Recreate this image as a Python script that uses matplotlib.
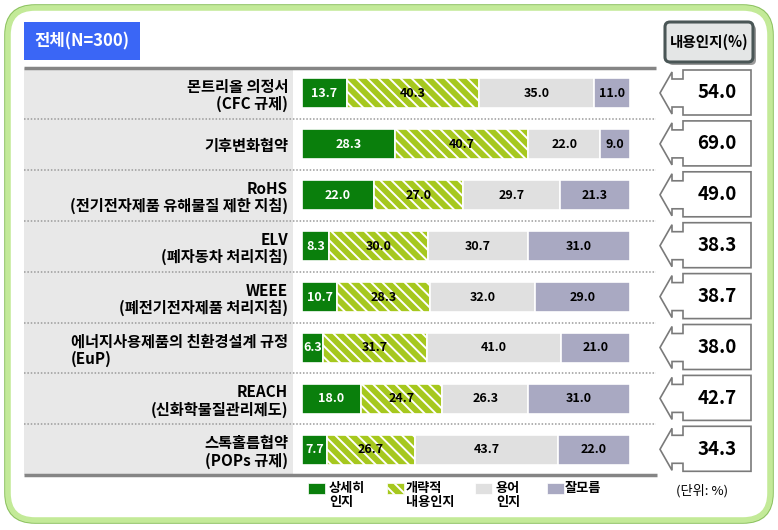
import matplotlib
matplotlib.use("Agg")
import matplotlib.pyplot as plt
import numpy as np
from matplotlib.patches import Rectangle, FancyBboxPatch, Polygon

plt.rcParams['font.family'] = ['Noto Sans CJK KR', 'DejaVu Sans']
plt.rcParams['hatch.linewidth'] = 1.4

# data
categories = [
    "몬트리올 의정서\n(CFC 규제)",
    "기후변화협약",
    "RoHS\n(전기전자제품 유해물질 제한 지침)",
    "ELV\n(폐자동차 처리지침)",
    "WEEE\n(폐전기전자제품 처리지침)",
    "에너지사용제품의 친환경설계 규정\n(EuP)",
    "REACH\n(신화학물질관리제도)",
    "스톡홀름협약\n(POPs 규제)",
]
detailed = [13.7, 28.3, 22.0, 8.3, 10.7, 6.3, 18.0, 7.7]
rough = [40.3, 40.7, 27.0, 30.0, 28.3, 31.7, 24.7, 26.7]
term_only = [35.0, 22.0, 29.7, 30.7, 32.0, 41.0, 26.3, 43.7]
unknown = [11.0, 9.0, 21.3, 31.0, 29.0, 21.0, 31.0, 22.0]
aware_pct = [54.0, 69.0, 49.0, 38.3, 38.7, 38.0, 42.7, 34.3]
series_names = ["상세히\n인지", "개략적\n내용인지", "용어\n인지", "잘모름"]

W, H = 778, 530
fig = plt.figure(figsize=(W / 100, H / 100), dpi=100)

# background layer in pixel coordinates
bg = fig.add_axes([0, 0, 1, 1], zorder=0)
bg.set_xlim(0, W)
bg.set_ylim(H, 0)
bg.axis('off')

bg.add_patch(FancyBboxPatch((5, 5), 768, 518, boxstyle="round,pad=0,rounding_size=30",
                            fc='white', ec='#8fc463', lw=1.2))
bg.add_patch(FancyBboxPatch((8, 8), 762, 512, boxstyle="round,pad=0,rounding_size=27",
                            fc='none', ec='#c3ea98', lw=4))

top, row_h = 68, 50.9
n = len(categories)
bottom = top + row_h * n

# title box
bg.add_patch(Rectangle((24, 22), 116, 38, fc='#3a66f6', ec='none'))
bg.text(82, 41, "전체(N=300)", color='white', fontsize=12, fontweight='bold',
        ha='center', va='center')

# label column
bg.add_patch(Rectangle((24, top), 269, bottom - top, fc='#e8e8e8', ec='none'))
for k in range(1, n):
    yy = top + row_h * k
    bg.plot([24, 656], [yy, yy], color='#9a9a9a', lw=1.1, ls=(0, (1, 1.2)))
bg.plot([24, 656], [top, top], color='#858585', lw=2.5, solid_capstyle='butt')
bg.plot([24, 657], [bottom, bottom], color='#858585', lw=2.5, solid_capstyle='butt')

# header button
bg.add_patch(FancyBboxPatch((668, 25), 88, 40, boxstyle="round,pad=0,rounding_size=5",
                            fc='#9a9a9a', ec='none'))
bg.add_patch(FancyBboxPatch((665, 22), 88, 40, boxstyle="round,pad=0,rounding_size=5",
                            fc='#e4e6e6', ec='#4a5656', lw=2.2))
bg.text(709, 42, "내용인지(%)", fontsize=10.5, fontweight='bold', ha='center', va='center')

# callouts
for i, v in enumerate(aware_pct):
    r0 = top + row_h * i
    pts = [(751, r0 + 2), (683, r0 + 2), (683, r0 + 11), (672, r0 + 11), (672, r0 + 4),
           (660, r0 + 25), (672, r0 + 46), (672, r0 + 39), (683, r0 + 39),
           (683, r0 + 47), (751, r0 + 47)]
    bg.add_patch(Polygon(pts, closed=True, fc='white', ec='#7a7a7a', lw=1.2))
    bg.text(717, r0 + 25, f"{v:.1f}", fontsize=13.5, fontweight='bold',
            ha='center', va='center')

# bars
ax = fig.add_axes([302 / W, 1 - bottom / H, 328 / W, (bottom - top) / H], zorder=2)
ax.patch.set_alpha(0)
y = np.arange(n) + 0.5
series = [detailed, rough, term_only, unknown]
styles = [
    dict(color='#0a7f0c', edgecolor='white', hatch=None),
    dict(color='#a6c81e', edgecolor='white', hatch='\\\\\\'),
    dict(color='#e0e0e0', edgecolor='white', hatch=None),
    dict(color='#a9a9c2', edgecolor='white', hatch=None),
]
left = np.zeros(n)
for vals, st, tc in zip(series, styles, ['white', 'black', 'black', 'black']):
    bars = ax.barh(y, vals, left=left, height=0.59, color=st['color'],
                   edgecolor=st['edgecolor'], linewidth=1.2, hatch=st['hatch'])
    ax.bar_label(bars, labels=[f"{v:.1f}" for v in vals], label_type='center',
                 color=tc, fontsize=9, fontweight='bold')
    left += np.array(vals)

ax.set_xlim(0, 100)
ax.set_ylim(n, 0)
ax.set_xticks([])
ax.set_yticks(y, labels=categories)
ax.tick_params(axis='y', length=0, pad=10, labelsize=11)
for lab in ax.get_yticklabels():
    lab.set_fontweight('bold')
    lab.set_linespacing(1.1)
ax.get_yticklabels()[5].set_multialignment('left')
for s in ax.spines.values():
    s.set_visible(False)

# legend
leg_x = [308, 387, 475, 547]
txt_x = [329, 406, 496, 565]
for lx, tx, name, st in zip(leg_x, txt_x, series_names, styles):
    bg.add_patch(Rectangle((lx, 483), 17, 11, fc=st['color'], ec='white', lw=0.5,
                           hatch=st['hatch']))
    bg.text(tx, 481, name, fontsize=9.5, fontweight='bold', ha='left', va='top',
            linespacing=1.0)
bg.text(702, 491, "(단위: %)", fontsize=9.5, ha='center', va='center')

fig.savefig("out.png", dpi=100)
